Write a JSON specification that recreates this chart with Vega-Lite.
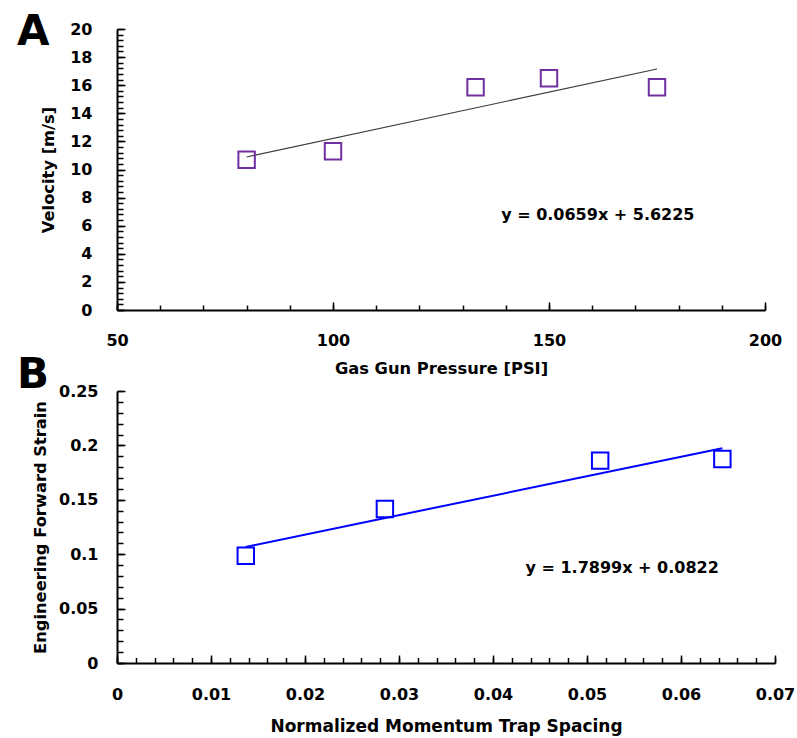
{
  "$schema": "https://vega.github.io/schema/vega-lite/v6.json",
  "autosize": "none",
  "padding": {"left": 117, "top": 29, "right": 680, "bottom": 709},
  "background": "white",
  "bounds": "flush",
  "spacing": 81,
  "datasets": {
    "velocity": [
      {"pressure": 80, "velocity": 10.7},
      {"pressure": 100, "velocity": 11.3},
      {"pressure": 133, "velocity": 15.85},
      {"pressure": 150, "velocity": 16.5},
      {"pressure": 175, "velocity": 15.85}
    ],
    "velocityFit": [
      {"pressure": 80, "velocity": 10.8945},
      {"pressure": 175, "velocity": 17.155}
    ],
    "velocityEq": [
      {"pressure": 161.3, "velocity": 6.76, "label": "y = 0.0659x + 5.6225"}
    ],
    "strain": [
      {"spacing": 0.0137, "strain": 0.0985},
      {"spacing": 0.0285, "strain": 0.1415},
      {"spacing": 0.0514, "strain": 0.186},
      {"spacing": 0.0644, "strain": 0.1875}
    ],
    "strainFit": [
      {"spacing": 0.0137, "strain": 0.10672},
      {"spacing": 0.0644, "strain": 0.19747}
    ],
    "strainEq": [
      {"spacing": 0.05374, "strain": 0.0873, "label": "y = 1.7899x + 0.0822"}
    ]
  },
  "vconcat": [
    {
      "width": 648,
      "height": 281,
      "title": {
        "text": "A",
        "anchor": "start",
        "frame": "group",
        "font": "DejaVu Sans",
        "fontWeight": "bold",
        "fontSize": 42,
        "color": "black",
        "baseline": "alphabetic",
        "offset": -66,
        "dx": -100
      },
      "resolve": {"axis": {"x": "independent", "y": "independent"}},
      "layer": [
        {
          "data": {"name": "velocityFit"},
          "mark": {"type": "line", "color": "#3a3a3a", "strokeWidth": 1.1},
          "encoding": {
            "x": {
              "field": "pressure", "type": "quantitative",
              "scale": {"domain": [50, 200], "nice": false, "zero": false},
              "axis": {
                "orient": "bottom", "title": null, "labels": false, "domain": false, "tickSize": -5,
                "values": [50, 60, 70, 80, 90, 100, 110, 120, 130, 140, 150, 160, 170, 180, 190, 200]
              }
            },
            "y": {
              "field": "velocity", "type": "quantitative",
              "scale": {"domain": [0, 20], "nice": false},
              "axis": {
                "orient": "left", "title": null, "labels": false, "domain": false, "tickSize": -6,
                "values": [0, 0.4, 0.8, 1.2, 1.6, 2, 2.4, 2.8, 3.2, 3.6, 4, 4.4, 4.8, 5.2, 5.6, 6, 6.4, 6.8, 7.2, 7.6, 8, 8.4, 8.8, 9.2, 9.6, 10, 10.4, 10.8, 11.2, 11.6, 12, 12.4, 12.8, 13.2, 13.6, 14, 14.4, 14.8, 15.2, 15.6, 16, 16.4, 16.8, 17.2, 17.6, 18, 18.4, 18.8, 19.2, 19.6, 20]
              }
            }
          }
        },
        {
          "data": {"name": "velocity"},
          "mark": {"type": "point", "shape": "square", "filled": false, "size": 270, "strokeWidth": 2, "color": "#7030a0", "opacity": 1},
          "encoding": {
            "x": {
              "field": "pressure", "type": "quantitative",
              "scale": {"domain": [50, 200], "nice": false, "zero": false},
              "axis": {
                "orient": "bottom", "title": "Gas Gun Pressure [PSI]", "tickSize": -8,
                "values": [50, 100, 150, 200], "format": "d", "labelPadding": 30, "titlePadding": 12, "titleFontSize": 16.3
              }
            },
            "y": {
              "field": "velocity", "type": "quantitative",
              "scale": {"domain": [0, 20], "nice": false},
              "axis": {
                "orient": "left", "title": "Velocity [m/s]", "tickSize": -8,
                "values": [0, 2, 4, 6, 8, 10, 12, 14, 16, 18, 20], "format": "d", "labelPadding": 33, "titlePadding": 13, "titleFontSize": 16.3
              }
            }
          }
        },
        {
          "data": {"name": "velocityEq"},
          "mark": {"type": "text", "font": "DejaVu Sans", "fontWeight": "bold", "fontSize": 16, "color": "black", "align": "center", "baseline": "middle"},
          "encoding": {
            "x": {"field": "pressure", "type": "quantitative", "axis": null},
            "y": {"field": "velocity", "type": "quantitative", "axis": null},
            "text": {"field": "label"}
          }
        }
      ]
    },
    {
      "width": 658,
      "height": 272,
      "title": {
        "text": "B",
        "anchor": "start",
        "frame": "group",
        "font": "DejaVu Sans",
        "fontWeight": "bold",
        "fontSize": 42,
        "color": "black",
        "baseline": "alphabetic",
        "offset": -47,
        "dx": -100
      },
      "resolve": {"axis": {"x": "independent", "y": "independent"}},
      "layer": [
        {
          "data": {"name": "strainFit"},
          "mark": {"type": "line", "color": "#0000ff", "strokeWidth": 2},
          "encoding": {
            "x": {
              "field": "spacing", "type": "quantitative",
              "scale": {"domain": [0, 0.07], "nice": false},
              "axis": {
                "orient": "bottom", "title": null, "labels": false, "domain": false, "tickSize": -5.5,
                "values": [0, 0.002, 0.004, 0.006, 0.008, 0.01, 0.012, 0.014, 0.016, 0.018, 0.02, 0.022, 0.024, 0.026, 0.028, 0.03, 0.032, 0.034, 0.036, 0.038, 0.04, 0.042, 0.044, 0.046, 0.048, 0.05, 0.052, 0.054, 0.056, 0.058, 0.06, 0.062, 0.064, 0.066, 0.068, 0.07]
              }
            },
            "y": {
              "field": "strain", "type": "quantitative",
              "scale": {"domain": [0, 0.25], "nice": false},
              "axis": {
                "orient": "left", "title": null, "labels": false, "domain": false, "tickSize": -6,
                "values": [0, 0.01, 0.02, 0.03, 0.04, 0.05, 0.06, 0.07, 0.08, 0.09, 0.1, 0.11, 0.12, 0.13, 0.14, 0.15, 0.16, 0.17, 0.18, 0.19, 0.2, 0.21, 0.22, 0.23, 0.24, 0.25]
              }
            }
          }
        },
        {
          "data": {"name": "strain"},
          "mark": {"type": "point", "shape": "square", "filled": false, "size": 270, "strokeWidth": 2, "color": "#0000ff", "opacity": 1},
          "encoding": {
            "x": {
              "field": "spacing", "type": "quantitative",
              "scale": {"domain": [0, 0.07], "nice": false},
              "axis": {
                "orient": "bottom", "title": "Normalized Momentum Trap Spacing", "tickSize": -8,
                "values": [0, 0.01, 0.02, 0.03, 0.04, 0.05, 0.06, 0.07], "format": "~g", "labelPadding": 31, "titlePadding": 16, "titleFontSize": 17
              }
            },
            "y": {
              "field": "strain", "type": "quantitative",
              "scale": {"domain": [0, 0.25], "nice": false},
              "axis": {
                "orient": "left", "title": "Engineering Forward Strain", "tickSize": -8,
                "values": [0, 0.05, 0.1, 0.15, 0.2, 0.25], "format": "~g", "labelPadding": 27, "titlePadding": 10, "titleFontSize": 16.3
              }
            }
          }
        },
        {
          "data": {"name": "strainEq"},
          "mark": {"type": "text", "font": "DejaVu Sans", "fontWeight": "bold", "fontSize": 16, "color": "black", "align": "center", "baseline": "middle"},
          "encoding": {
            "x": {"field": "spacing", "type": "quantitative", "axis": null},
            "y": {"field": "strain", "type": "quantitative", "axis": null},
            "text": {"field": "label"}
          }
        }
      ]
    }
  ],
  "config": {
    "view": {"stroke": null},
    "axis": {
      "grid": false,
      "domainColor": "black",
      "domainWidth": 2,
      "tickColor": "black",
      "tickWidth": 1.5,
      "labelFlush": false,
      "labelFont": "DejaVu Sans",
      "labelFontWeight": "bold",
      "labelFontSize": 16,
      "labelColor": "black",
      "titleFont": "DejaVu Sans",
      "titleFontWeight": "bold",
      "titleFontSize": 16,
      "titleColor": "black"
    }
  }
}
